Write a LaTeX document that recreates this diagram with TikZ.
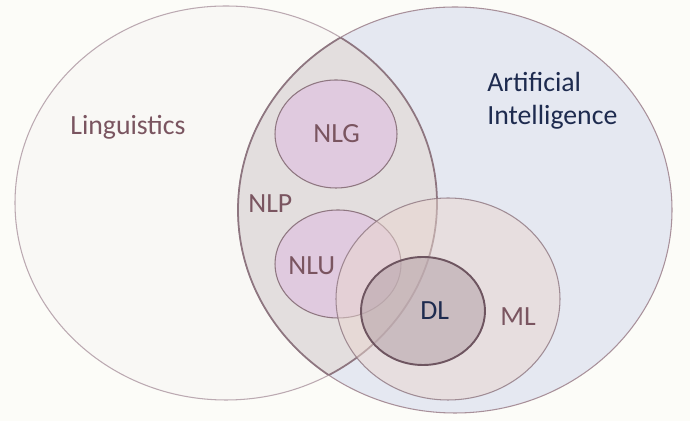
\documentclass[tikz,border=0pt]{standalone}
\usepackage{fontspec}
\setmainfont{Carlito}
\usepackage{tikz}
\usetikzlibrary{shapes}

\definecolor{bgcol}{HTML}{FCFCF8}
\definecolor{lingfill}{HTML}{F9F8F5}
\definecolor{lingline}{HTML}{BBA9B1}
\definecolor{aifill}{HTML}{E5E8F1}
\definecolor{ailine}{HTML}{A8909A}
\definecolor{nlpfill}{HTML}{E3DEDE}
\definecolor{nlpline}{HTML}{8E7680}
\definecolor{nlfill}{HTML}{E0CADF}
\definecolor{mlfill}{HTML}{E9D6CF}
\definecolor{dlfill}{HTML}{B8A6AC}
\definecolor{dlline}{HTML}{6E5560}
\definecolor{brownish}{HTML}{7A5560}
\definecolor{navy}{HTML}{1E2B4F}

\begin{document}
\begin{tikzpicture}[x=0.02cm,y=-0.02cm]
	\tikzstyle{LabelStyle}=[font=\fontsize{15.8}{18.9}\selectfont,inner sep=0pt,anchor=base west]
	\tikzstyle{SetStyle}=[line width=0.6pt,draw=nlpline]
	\useasboundingbox[fill=bgcol] (0,0) rectangle (690,421);

	% big sets
	\filldraw[SetStyle,fill=lingfill,draw=lingline] (226,203) ellipse [x radius=211,y radius=197];
	\filldraw[SetStyle,fill=aifill,draw=ailine] (455,210) ellipse [x radius=217,y radius=203];

	% NLP = overlap of the two
	\begin{scope}
		\clip (226,203) ellipse [x radius=211,y radius=197];
		\filldraw[SetStyle,fill=nlpfill,line width=1pt] (455,210) ellipse [x radius=217,y radius=203];
	\end{scope}
	\begin{scope}
		\clip (455,210) ellipse [x radius=217,y radius=203];
		\draw[SetStyle,line width=1pt] (226,203) ellipse [x radius=211,y radius=197];
	\end{scope}

	% inside NLP
	\filldraw[SetStyle,fill=nlfill] (336,134) ellipse [x radius=61,y radius=54];
	\filldraw[SetStyle,fill=nlfill] (338,264) ellipse [x radius=63,y radius=54];

	% ML and DL
	\filldraw[SetStyle,fill=mlfill,fill opacity=0.5,draw opacity=0.8] (448,299) ellipse [x radius=112,y radius=101];
	\filldraw[SetStyle,fill=dlfill,fill opacity=0.6,draw=dlline,line width=1.1pt] (423,311) ellipse [x radius=62,y radius=54];

	% labels
	\node[LabelStyle,text=brownish] (ling) at (70,135) {Linguistics};
	\node[LabelStyle,text=navy,align=left] (ai) at (487,125) {Artificial\\Intelligence};
	\node[LabelStyle,text=brownish] (nlp) at (248,213) {NLP};
	\node[LabelStyle,text=brownish] (nlg) at (313,143) {NLG};
	\node[LabelStyle,text=brownish] (nlu) at (288,275) {NLU};
	\node[LabelStyle,text=navy] (dl) at (420,320) {DL};
	\node[LabelStyle,text=brownish] (ml) at (500,326) {ML};
\end{tikzpicture}
\end{document}
